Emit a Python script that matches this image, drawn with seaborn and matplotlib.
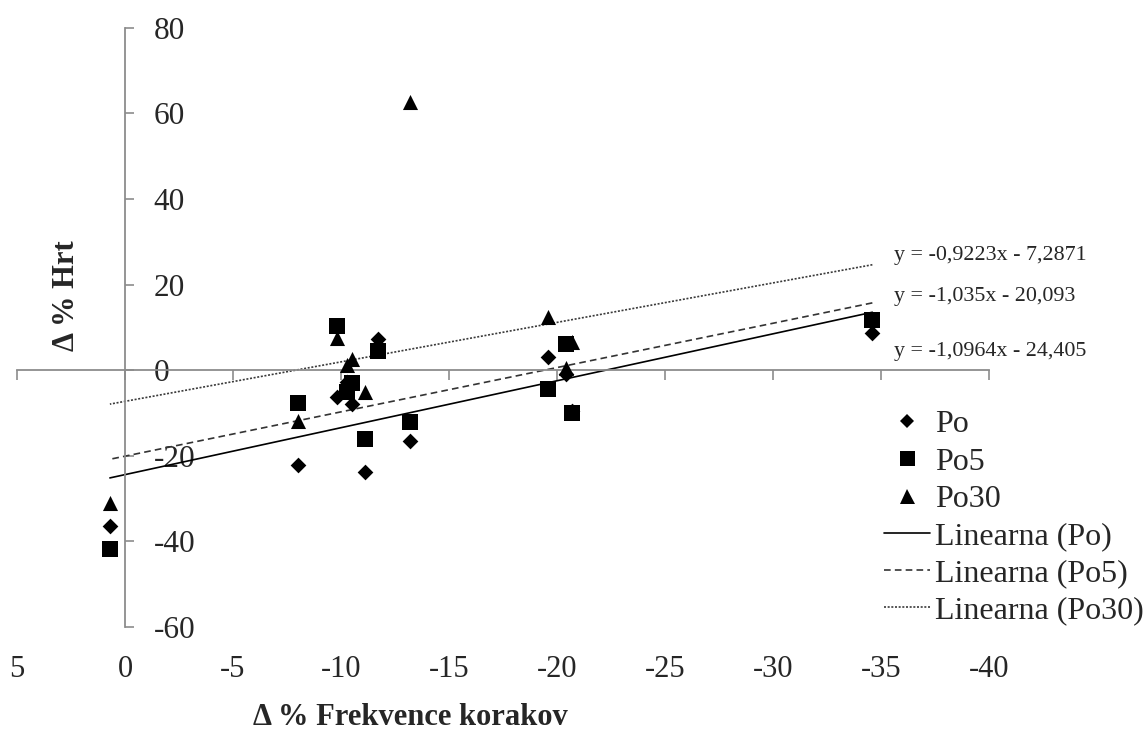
import numpy as np
import pandas as pd
import matplotlib
matplotlib.use("Agg")
import matplotlib.pyplot as plt
from matplotlib.lines import Line2D
import seaborn as sns

# Change in step frequency (%) per subject
freq_change = [0.7, -8.0, -9.8, -10.3, -10.5, -11.1, -11.7, -13.2, -19.6, -20.4, -20.7, -34.6]
# Change in speed (%) for each condition
hrt_po = [-36.4, -22.2, -6.2, -2.8, -7.8, -23.9, 7.3, -16.6, 3.1, -1.0, -9.6, 8.6]
hrt_po5 = [-41.7, -7.6, 10.4, -5.1, -2.9, -16.0, 4.4, -12.1, -4.4, 6.2, -10.1, 11.8]
hrt_po30 = [-31.0, -11.8, 7.4, 1.2, 2.6, -5.1, 6.0, 62.7, 12.5, 0.5, 6.6, 12.0]

series_names = ["Po", "Po5", "Po30"]
# Linear trend coefficients (slope, intercept)
trend_slopes = [-1.0964, -1.035, -0.9223]
trend_intercepts = [-24.405, -20.093, -7.2871]
trend_labels = ["y = -1,0964x - 24,405", "y = -1,035x - 20,093", "y = -0,9223x - 7,2871"]

x_ticks = [5, 0, -5, -10, -15, -20, -25, -30, -35, -40]
y_ticks = [-60, -40, -20, 0, 20, 40, 60, 80]

sns.set_theme(style="white")
plt.rcParams["font.family"] = ["Liberation Serif", "DejaVu Serif"]

df = pd.DataFrame({
    "x": freq_change * 3,
    "y": hrt_po + hrt_po5 + hrt_po30,
    "serija": np.repeat(series_names, len(freq_change)),
})

W, H = 1148, 736
fig = plt.figure(figsize=(W / 100, H / 100), dpi=100)
ax = fig.add_axes([17 / W, 1 - 627 / H, (989 - 17) / W, (627 - 27.7) / H])

axis_grey = "#8c8c8c"
line_styles = {
    "Po": dict(color="black", lw=1.2, ls="-"),
    "Po5": dict(color="#333333", lw=1.2, ls=(0, (4, 2.5))),
    "Po30": dict(color="#3a3a3a", lw=1.2, ls=(0, (1.2, 1.0))),
}
markers = {"Po": ("D", 64), "Po5": ("s", 118), "Po30": ("^", 118)}

# Trend lines over the observed range
xs = np.array([min(freq_change), max(freq_change)])
for name, k, n in zip(series_names, trend_slopes, trend_intercepts):
    ax.plot(xs, k * xs + n, zorder=2, **line_styles[name])

# Scatter points
for name in series_names:
    m, s = markers[name]
    sns.scatterplot(data=df[df["serija"] == name], x="x", y="y", marker=m, s=s,
                    color="black", edgecolor="black", linewidth=0, ax=ax,
                    legend=False, zorder=3)

# Equation labels next to the line ends
eq_y = [4.4, 17.1, 26.9]
for lbl, yy in zip(trend_labels, eq_y):
    ax.text(-35.6, yy, lbl, fontsize=15.8, ha="left", va="center", clip_on=False)

ax.set_xlim(5, -40)
ax.set_ylim(-60, 80)

# Axes crossing at the origin
for side in ["top", "right"]:
    ax.spines[side].set_visible(False)
ax.spines["left"].set_position(("data", 0))
ax.spines["bottom"].set_position(("data", 0))
for side in ["left", "bottom"]:
    ax.spines[side].set_color(axis_grey)
    ax.spines[side].set_linewidth(1.3)

ax.set_yticks(y_ticks)
ax.set_yticklabels([str(v) for v in y_ticks])
ax.tick_params(axis="y", direction="in", length=6.5, width=1.2, color=axis_grey,
               pad=-20.5, labelsize=22.5, left=True)
plt.setp(ax.get_yticklabels(), ha="left")

ax.set_xticks(x_ticks)
ax.tick_params(axis="x", direction="out", length=7, width=1.2, color=axis_grey,
               labelbottom=False, bottom=True)

# Tick labels for x along the bottom of the plot area
sec = ax.secondary_xaxis("bottom")
sec.set_xticks(x_ticks)
sec.set_xticklabels([str(v) for v in x_ticks])
sec.tick_params(length=0, pad=20, labelsize=22)
sec.spines["bottom"].set_visible(False)

ax.set_xlabel("Δ % Frekvence korakov", fontsize=22, fontweight="bold")
ax.xaxis.set_label_coords((410 - 17) / 972, (627 - 703) / 599.3)
ax.set_ylabel("Δ % Hrt", fontsize=22, fontweight="bold")
ax.yaxis.set_label_coords((81 - 17) / 972, (627 - 296) / 599.3)

handles = [
    Line2D([], [], ls="none", marker="D", ms=7.6, color="black", mew=0),
    Line2D([], [], ls="none", marker="s", ms=10.8, color="black", mew=0),
    Line2D([], [], ls="none", marker="^", ms=10.8, color="black", mew=0),
    Line2D([], [], **line_styles["Po"]),
    Line2D([], [], **line_styles["Po5"]),
    Line2D([], [], **line_styles["Po30"]),
]
labels = ["Po", "Po5", "Po30", "Linearna (Po)", "Linearna (Po5)", "Linearna (Po30)"]
fig.legend(handles, labels, loc="upper left", bbox_to_anchor=(884 / W, 1 - 410 / H),
           frameon=False, fontsize=23, handlelength=1.45, handletextpad=0.15,
           labelspacing=0.245, borderaxespad=0, borderpad=0)

fig.savefig("out.png", dpi=100)
